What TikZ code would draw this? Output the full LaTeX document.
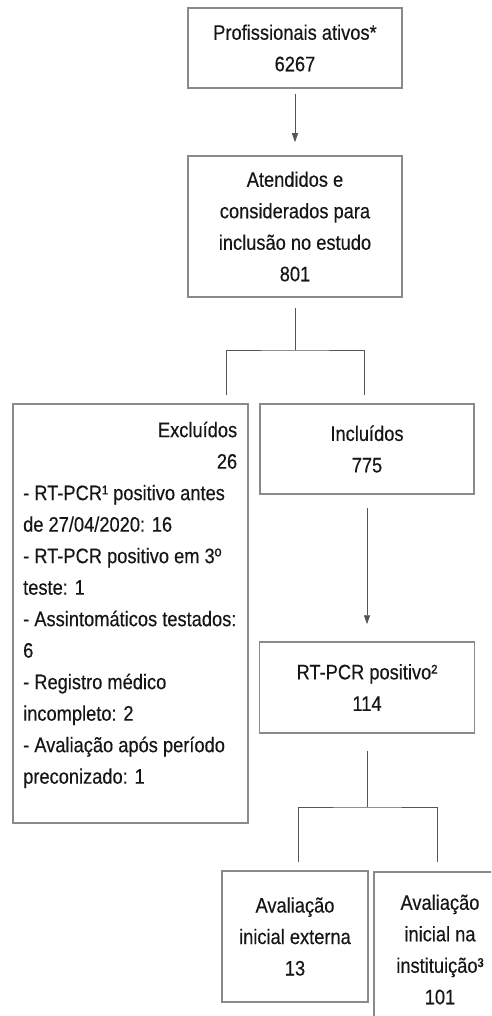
\documentclass[tikz,border=0pt]{standalone}
\usepackage{fontspec}
\setmainfont[FakeStretch=0.87,FakeBold=0.3]{Liberation Sans}
\usetikzlibrary{arrows.meta,calc}
\definecolor{boxgray}{HTML}{8A8A8A}
\definecolor{linkgray}{HTML}{555555}
\definecolor{textdark}{HTML}{161616}

\begin{document}
\begin{tikzpicture}[x=1pt, y=-1pt,
  flowfont/.style={font=\fontsize{21pt}{31.5pt}\selectfont, text=textdark},
  flowbox/.style={draw=boxgray, line width=1.5pt, fill=white, inner sep=0pt, align=center, flowfont},
  link/.style={draw=linkgray, line width=0.9pt},
  linkarrow/.style={link, -{Triangle[width=6pt,length=9pt]}}]

% Page
\useasboundingbox (0,0) rectangle (491,1016);
\clip (0,0) rectangle (491,1016);
\fill[white] (0,0) rectangle (491,1016);

% === TOP ===
\node[flowbox, minimum width=214pt, minimum height=80pt] (prof) at (295,48) {Profissionais ativos*\\6267};
\node[flowbox, minimum width=214pt, minimum height=141pt] (atend) at (295,226.5)
  {Atendidos e\\considerados para\\inclusão no estudo\\801};
\draw[linkarrow, shorten <=5pt, shorten >=13pt] (prof.south) -- (atend.north);

% === SPLIT: EXCLUDED / INCLUDED ===
\node[flowbox, minimum width=235pt, minimum height=419pt] (excl) at (130.5,613.5) {};
\node[flowfont, align=left, inner sep=0pt, anchor=north west] (excltxt) at (23,421.5) {
  \makebox[214pt][r]{Excluídos}\\
  \makebox[214pt][r]{26}\\
  - RT-PCR¹ positivo antes\\
  de 27/04/2020: 16\\
  - RT-PCR positivo em 3º\\
  teste: 1\\
  - Assintomáticos testados:\\
  6\\
  - Registro médico\\
  incompleto: 2\\
  - Avaliação após período\\
  preconizado: 1};
\node[flowbox, minimum width=214pt, minimum height=90pt] (incl) at (367,449) {Incluídos\\775};

\coordinate (split1) at (295,350);
\coordinate (exclTop) at (226,395);
\coordinate (inclTop) at (364,395);
\draw[link, shorten <=10pt] (atend.south) -- (split1);
\draw[link] (exclTop) |- (split1) -| (inclTop);

% === POSITIVE ===
\node[flowbox, minimum width=215pt, minimum height=91pt] (rtpcr) at (367,687.5) {RT-PCR positivo²\\114};
\draw[linkarrow, shorten <=13pt, shorten >=17pt] (incl.south) -- (rtpcr.north);

% === SPLIT: INITIAL EVALUATION ===
\node[flowbox, minimum width=146pt, minimum height=131pt] (extern) at (295,936.5) {Avaliação\\inicial externa\\13};
\node[flowbox, minimum width=132pt, minimum height=155pt] (instit) at (440,949.5) {Avaliação\\inicial na\\instituição³\\101};

\coordinate (split2) at (367,807);
\coordinate (externTop) at (298,862);
\coordinate (institTop) at (437,862);
\draw[link, shorten <=17pt] (rtpcr.south) -- (split2);
\draw[link] (externTop) |- (split2) -| (institTop);

\end{tikzpicture}
\end{document}
